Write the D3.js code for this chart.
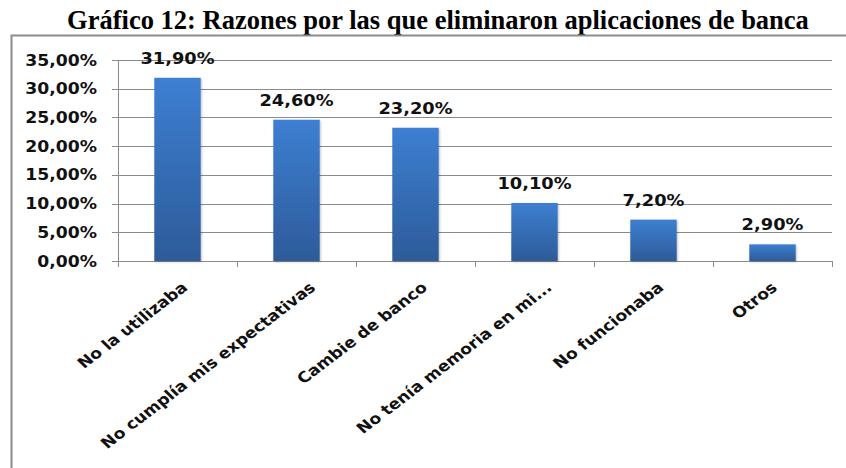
<!DOCTYPE html>
<html><head><meta charset="utf-8">
<script src="https://cdn.jsdelivr.net/npm/d3@7"></script>
<style>body{margin:0;background:#fff;}svg{display:block;}</style>
</head><body>
<script>
const categories = ["No la utilizaba","No cumplía mis expectativas","Cambie de banco","No tenía memoria en mi...","No funcionaba","Otros"];
const values = [31.9, 24.6, 23.2, 10.1, 7.2, 2.9];
const valueLabels = ["31,90%","24,60%","23,20%","10,10%","7,20%","2,90%"];
const yTicks = [0,5,10,15,20,25,30,35];
const title = "Gráfico 12: Razones por las que eliminaron aplicaciones de banca";

const W=846,H=468;
const svg=d3.select("body").append("svg").attr("width",W).attr("height",H);
const defs=svg.append("defs");
const g=defs.append("linearGradient").attr("id","bg").attr("x1",0).attr("y1",0).attr("x2",0).attr("y2",1);
g.append("stop").attr("offset","0%").attr("stop-color","#3d7fd2");
g.append("stop").attr("offset","100%").attr("stop-color","#2d5b99");
const f=defs.append("filter").attr("id","sh").attr("x","-20%").attr("y","-20%").attr("width","140%").attr("height","140%");
f.append("feDropShadow").attr("dx",1).attr("dy",1).attr("stdDeviation",1).attr("flood-color","#000").attr("flood-opacity",0.25);

const tt=svg.append("text").attr("x",438).attr("y",29).attr("text-anchor","middle")
 .attr("font-family","Liberation Serif, Times New Roman, serif").attr("font-weight","bold").attr("font-size",26.5)
 .attr("fill","#000").text(title);
const tw=tt.node().getComputedTextLength();
if (Math.abs(tw-744)>4) tt.attr("textLength",744).attr("lengthAdjust","spacingAndGlyphs");

// frame
svg.append("path").attr("d",`M11.5,${H} L11.5,35.5 L${W},35.5`).attr("fill","none").attr("stroke","#8c8c8c").attr("stroke-width",2);

const x=d3.scaleBand().domain(categories).range([118,832]).paddingInner(0.61).paddingOuter(0.305);
const y=d3.scaleLinear().domain([0,35]).range([261,60]);

// gridlines
svg.append("g").selectAll("line").data(yTicks).join("line")
 .attr("x1",112).attr("x2",832).attr("y1",d=>Math.round(y(d))+0.5).attr("y2",d=>Math.round(y(d))+0.5)
 .attr("stroke","#8a8a8a").attr("stroke-width",1);

// y axis line
svg.append("line").attr("x1",118.5).attr("x2",118.5).attr("y1",60).attr("y2",267).attr("stroke","#8a8a8a");
// category ticks
const tickXs=d3.range(categories.length+1).map(i=>118+i*(714/categories.length));
svg.append("g").selectAll("line").data(tickXs).join("line")
 .attr("x1",d=>Math.round(d)+0.5).attr("x2",d=>Math.round(d)+0.5).attr("y1",261).attr("y2",267).attr("stroke","#8a8a8a");

const SX=1.15;
// y labels
svg.append("g").selectAll("text").data(yTicks).join("text")
 .attr("transform",d=>`translate(97,${y(d)+5.5}) scale(${SX},1)`).attr("text-anchor","end")
 .attr("font-family","DejaVu Sans, Verdana, sans-serif").attr("font-weight","bold").attr("font-size",15).attr("fill","#111")
 .text(d=>d3.format(".2f")(d).replace(".",",")+"%");

// bars
svg.append("g").selectAll("rect").data(values).join("rect")
 .attr("x",(d,i)=>x(categories[i])).attr("width",x.bandwidth())
 .attr("y",d=>y(d)).attr("height",d=>y(0)-y(d))
 .attr("fill","url(#bg)").attr("filter","url(#sh)");

// value labels
svg.append("g").selectAll("text").data(values).join("text")
 .attr("transform",(d,i)=>`translate(${x(categories[i])+x.bandwidth()/2},${y(d)-14}) scale(${SX},1)`)
 .attr("text-anchor","middle")
 .attr("font-family","DejaVu Sans, Verdana, sans-serif").attr("font-weight","bold").attr("font-size",15.5).attr("fill","#111")
 .text((d,i)=>valueLabels[i]);

// category labels
const ANG=41.4;
const cl=svg.append("g").selectAll("text").data(categories).join("text")
 .attr("text-anchor","end")
 .attr("font-family","DejaVu Sans, Verdana, sans-serif").attr("font-weight","bold").attr("font-size",15).attr("fill","#111")
 .text(d=>d);
cl.each(function(d){
  const L=this.getComputedTextLength()*1.087;
  const ax=x(d)+x.bandwidth()/2+2.4+0.067*L;
  d3.select(this).attr("transform",`translate(${ax},289) scale(${SX},1) rotate(-${ANG})`);
});
</script>
</body></html>
